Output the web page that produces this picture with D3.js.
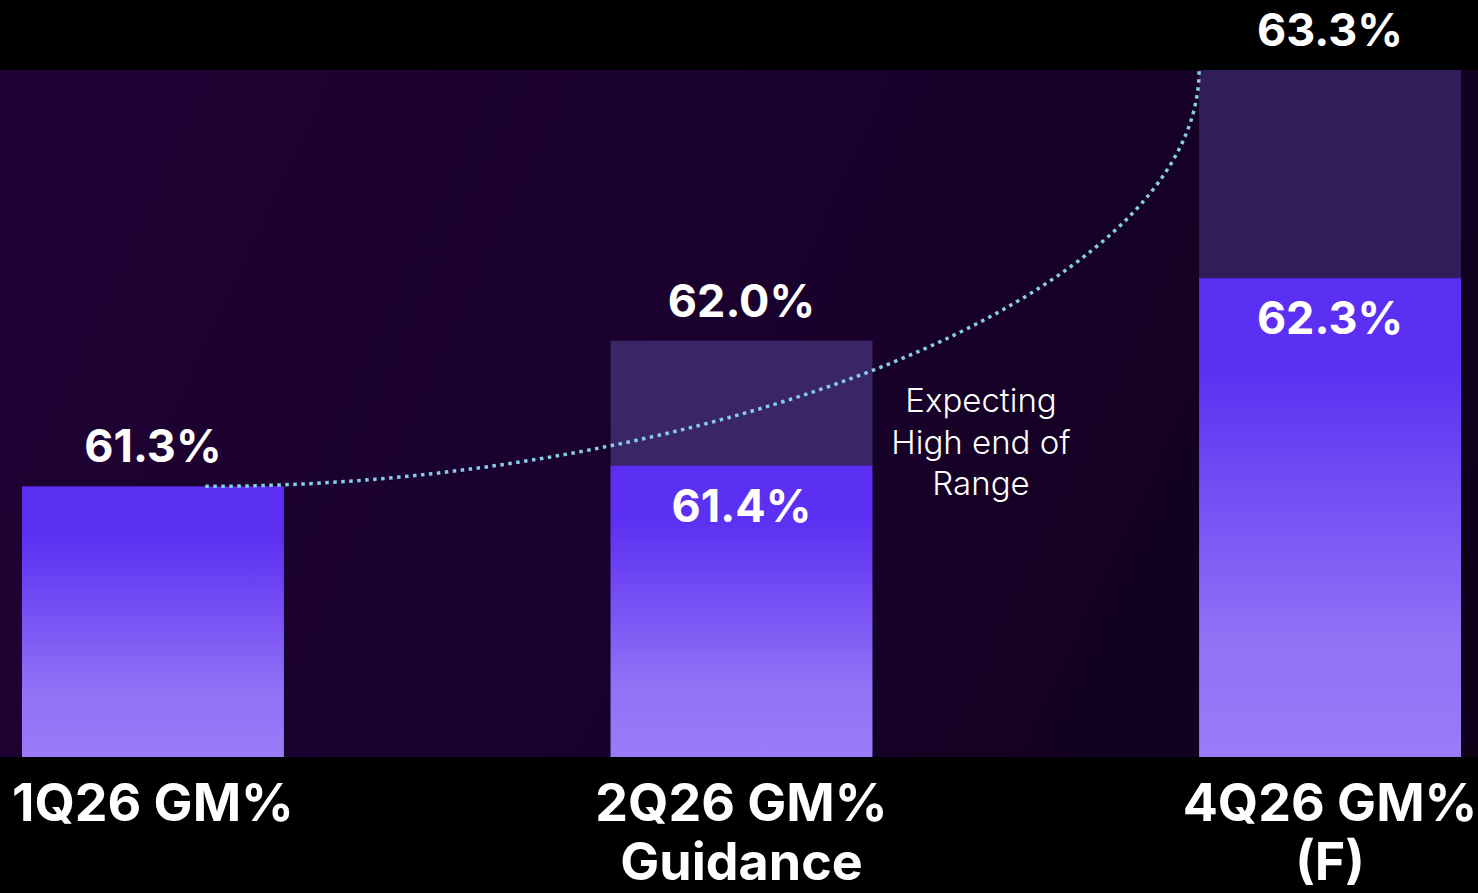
<!DOCTYPE html>
<html>
<head>
<meta charset="utf-8">
<script src="https://cdn.jsdelivr.net/npm/d3@7"></script>
<style>
  html, body { margin: 0; padding: 0; background: #000; }
  svg { display: block; }
</style>
</head>
<body>
<svg id="chart" width="1478" height="893"></svg>
<script>
// ---- data ----
const categories = ["1Q26", "2Q26", "4Q26"];
const categoryLines = [["1Q26 GM%"], ["2Q26 GM%", "Guidance"], ["4Q26 GM%", "(F)"]];
const baseValues = [61.3, 61.4, 62.3];        // solid bar value
const rangeHighValues = [null, 62.0, 63.3];    // top of the range (shaded part)
const annotationLines = ["Expecting", "High end of", "Range"];
const yDomain = [60.0, 63.3];

// ---- layout ----
const W = 1478, H = 893;
const plotTop = 70, plotBottom = 757;
const svg = d3.select("#chart");
const defs = svg.append("defs");

const x = d3.scaleBand()
  .domain(categories)
  .range([22, 1461])
  .paddingInner(0.555)
  .paddingOuter(0);
const bw = x.bandwidth();

const y = d3.scaleLinear().domain(yDomain).range([plotBottom, plotTop]);

// background black
svg.append("rect").attr("width", W).attr("height", H).attr("fill", "#000");

// plot area gradient
const bgGrad = defs.append("linearGradient").attr("id", "bgGrad")
  .attr("gradientUnits", "userSpaceOnUse")
  .attr("x1", 0).attr("y1", plotTop).attr("x2", W).attr("y2", plotBottom);
bgGrad.append("stop").attr("offset", 0).attr("stop-color", "#1e0234");
bgGrad.append("stop").attr("offset", 0.5).attr("stop-color", "#1a012d");
bgGrad.append("stop").attr("offset", 1).attr("stop-color", "#0e0118");
svg.append("rect")
  .attr("x", 0).attr("y", y(yDomain[1]))
  .attr("width", W).attr("height", y(yDomain[0]) - y(yDomain[1]))
  .attr("fill", "url(#bgGrad)");

// bar gradient
const barGrad = defs.append("linearGradient").attr("id", "barGrad")
  .attr("x1", 0).attr("y1", 0).attr("x2", 0).attr("y2", 1);
barGrad.append("stop").attr("offset", 0).attr("stop-color", "#5b2ff2");
barGrad.append("stop").attr("offset", 0.2).attr("stop-color", "#5d31f2");
barGrad.append("stop").attr("offset", 0.75).attr("stop-color", "#9171f6");
barGrad.append("stop").attr("offset", 1).attr("stop-color", "#9a7bf8");

const upperColors = ["#3a2567", "#3a2567", "#321d5b"];

// range (upper) segments
categories.forEach((c, i) => {
  const hi = rangeHighValues[i];
  if (hi == null) return;
  svg.append("rect")
    .attr("x", x(c)).attr("y", y(hi))
    .attr("width", bw).attr("height", y(baseValues[i]) - y(hi))
    .attr("fill", upperColors[i]);
});

// base bars
svg.selectAll("rect.bar").data(categories).join("rect")
  .attr("class", "bar")
  .attr("x", d => x(d))
  .attr("y", (d, i) => y(baseValues[i]))
  .attr("width", bw)
  .attr("height", (d, i) => y(yDomain[0]) - y(baseValues[i]))
  .attr("fill", "url(#barGrad)");

// dotted trend curve from 1Q26 top to 4Q26 high end
const sx = x(categories[0]) + bw * 0.7, sy = y(baseValues[0]);
const ex = x(categories[2]), ey = y(rangeHighValues[2]);
const p = d3.path();
p.moveTo(sx, sy);
p.bezierCurveTo(sx + (ex - sx) * 0.5, sy, ex, sy - (sy - ey) * 0.45, ex, ey);
svg.append("path")
  .attr("d", p.toString())
  .attr("fill", "none")
  .attr("stroke", "#86cde8")
  .attr("stroke-width", 3.5)
  .attr("stroke-dasharray", "3.5 4.5");

// value labels
const fontBold = "Inter, 'Open Sans', sans-serif";
function valueLabel(txt, cx, by) {
  svg.append("text")
    .attr("x", cx).attr("y", by)
    .attr("text-anchor", "middle")
    .attr("font-family", fontBold)
    .attr("font-weight", 700)
    .attr("font-size", 45)
    .attr("fill", "#fff")
    .text(txt);
}
categories.forEach((c, i) => {
  const cx = x(c) + bw / 2;
  if (rangeHighValues[i] == null) {
    valueLabel(baseValues[i].toFixed(1) + "%", cx, y(baseValues[i]) - 24);
  } else {
    valueLabel(rangeHighValues[i].toFixed(1) + "%", cx, y(rangeHighValues[i]) - 24);
    valueLabel(baseValues[i].toFixed(1) + "%", cx, y(baseValues[i]) + 56);
  }
});

// category labels
categories.forEach((c, i) => {
  const t = svg.append("text")
    .attr("x", x(c) + bw / 2)
    .attr("y", 821)
    .attr("text-anchor", "middle")
    .attr("font-family", fontBold)
    .attr("font-weight", 700)
    .attr("font-size", 52)
    .attr("fill", "#fff");
  categoryLines[i].forEach((line, j) => {
    t.append("tspan").attr("x", x(c) + bw / 2).attr("dy", j === 0 ? 0 : 59).text(line);
  });
});

// annotation
const ann = svg.append("text")
  .attr("x", 981).attr("y", 412)
  .attr("text-anchor", "middle")
  .attr("font-family", "Inter, 'Open Sans', sans-serif")
  .attr("font-weight", 300)
  .attr("font-size", 33)
  .attr("fill", "#fff");
annotationLines.forEach((line, j) => {
  ann.append("tspan").attr("x", 981).attr("dy", j === 0 ? 0 : 41.5).text(line);
});
</script>
</body>
</html>
